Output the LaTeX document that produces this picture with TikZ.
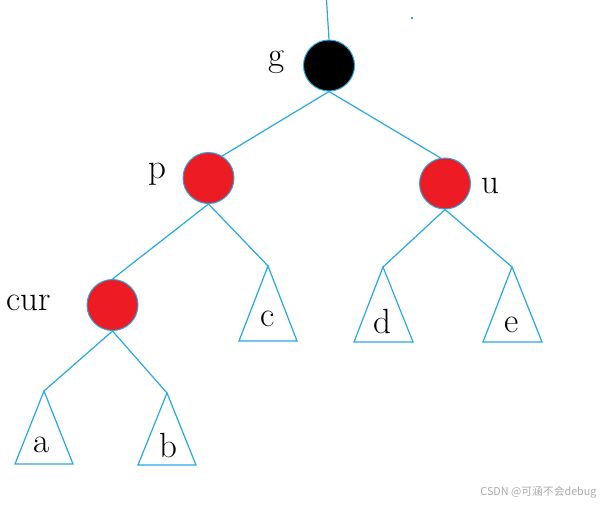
\documentclass[tikz,border=0pt]{standalone}
\usepackage{fontspec}
\newfontfamily\cjk{Noto Sans CJK SC}
\definecolor{linkblue}{RGB}{38,168,230}
\definecolor{nodered}{RGB}{237,28,36}
\definecolor{wmgray}{RGB}{170,170,170}
\begin{document}
\begin{tikzpicture}[x=1pt,y=-1pt,
  link/.style={draw=linkblue,line width=1.2pt},
  rbnode/.style={circle,draw=linkblue,line width=1pt,minimum size=51pt,inner sep=0pt},
  rednode/.style={rbnode,fill=nodered},
  blacknode/.style={rbnode,fill=black},
  lbl/.style={anchor=base,inner sep=0pt,font=\fontsize{35}{40}\selectfont},
  subtree/.style={draw=linkblue,line width=1.2pt,line join=miter}]
\useasboundingbox (0,0) rectangle (612,507);
% nodes
\node[blacknode] (g) at (329,65.5) {};
\node[rednode] (p) at (208.5,178) {};
\node[rednode] (u) at (445,183.5) {};
\node[rednode] (cur) at (112.5,305) {};
% labels
\node[lbl] (lg) at (276.5,66) {g};
\node[lbl] (lp) at (157,178) {p};
\node[lbl] (lu) at (490,193) {u};
\node[lbl] (lcur) at (28.5,310) {cur};
% subtrees
\coordinate (ta) at (44,391);
\coordinate (tb) at (167,393);
\coordinate (tc) at (268,266);
\coordinate (td) at (383,267);
\coordinate (te) at (512,267);
\draw[subtree] (ta) -- (15,464) -- (73,464) -- cycle;
\draw[subtree] (tb) -- (138,465) -- (196,465) -- cycle;
\draw[subtree] (tc) -- (239,341) -- (297,341) -- cycle;
\draw[subtree] (td) -- (354,342) -- (413,342) -- cycle;
\draw[subtree] (te) -- (483,342) -- (542,342) -- cycle;
\node[lbl] (la) at (42,452) {a};
\node[lbl] (lb) at (168,457) {b};
\node[lbl] (lc) at (267.5,326) {c};
\node[lbl] (ld) at (382,333) {d};
\node[lbl] (le) at (511.5,332) {e};
% connectors
\coordinate (top) at (326.5,0);
\draw[link] (top) -- (g.north);
\draw[link] (g.south) -- (p.58);
\draw[link] (g.south) -- (u.100);
\draw[link] (p.south) -- (cur.north);
\draw[link] (p.south) -- (tc);
\draw[link] (u.south) -- (td);
\draw[link] (u.south) -- (te);
\draw[link] (cur.south) -- (ta);
\draw[link] (cur.south) -- (tb);
% stray dot
\fill[linkblue] (411,17) rectangle (413,19);
% watermark
\node[anchor=base,inner sep=0pt,text=wmgray,font=\cjk\fontsize{10.8}{13}\selectfont] (wm) at (538.5,495) {CSDN @可涵不会debug};
\end{tikzpicture}
\end{document}
